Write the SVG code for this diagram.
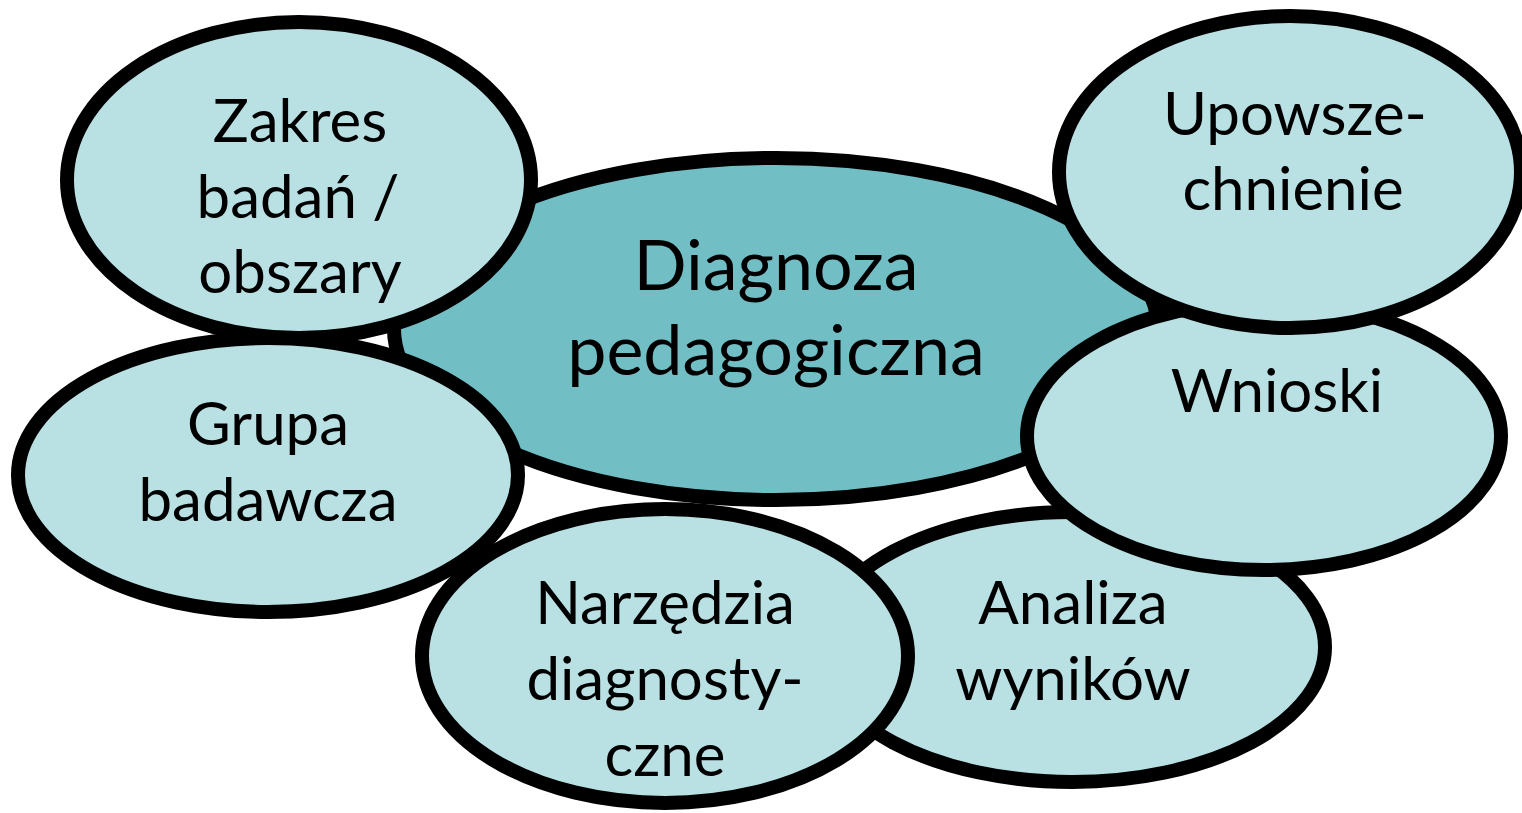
<svg xmlns="http://www.w3.org/2000/svg" width="1522" height="813" viewBox="0 0 1522 813">
<style>
.e{stroke:#000;stroke-width:14;}
.lt{fill:#B9E0E3;}
.dk{fill:#71BEC5;}
text{font-family:Lato,"Open Sans","Liberation Sans",sans-serif;fill:#000;text-anchor:middle;}
.s{font-size:60px;}
.b{font-size:70px;}
</style>
<rect width="1522" height="813" fill="#fff"/>
<g id="connectors"></g>
<g id="center">
<ellipse class="e dk" cx="776" cy="329" rx="382" ry="171"/>
<text class="b" x="776" y="290">Diagnoza</text>
<text class="b" x="776" y="375">pedagogiczna</text>
</g>
<g id="analiza">
<ellipse class="e lt" cx="1072" cy="647" rx="253" ry="135"/>
<text class="s" x="1073" y="624">Analiza</text>
<text class="s" x="1073" y="700">wyników</text>
</g>
<g id="wnioski">
<ellipse class="e lt" cx="1264" cy="436" rx="237" ry="134"/>
<text class="s" x="1277" y="412">Wnioski</text>
</g>
<g id="upowszechnienie">
<ellipse class="e lt" cx="1290" cy="172" rx="231" ry="156"/>
<text class="s" x="1295" y="135">Upowsze-</text>
<text class="s" x="1293" y="210">chnienie</text>
</g>
<g id="narzedzia">
<ellipse class="e lt" cx="665" cy="656" rx="243" ry="147"/>
<text class="s" x="665" y="624">Narzędzia</text>
<text class="s" x="665" y="700">diagnosty-</text>
<text class="s" x="665" y="776">czne</text>
</g>
<g id="grupa">
<ellipse class="e lt" cx="268" cy="475" rx="250" ry="137"/>
<text class="s" x="268" y="445">Grupa</text>
<text class="s" x="268" y="521">badawcza</text>
</g>
<g id="zakres">
<ellipse class="e lt" cx="299" cy="180" rx="232" ry="158"/>
<text class="s" x="300" y="142">Zakres</text>
<text class="s" x="298" y="218">badań /</text>
<text class="s" x="300" y="293">obszary</text>
</g>
</svg>
